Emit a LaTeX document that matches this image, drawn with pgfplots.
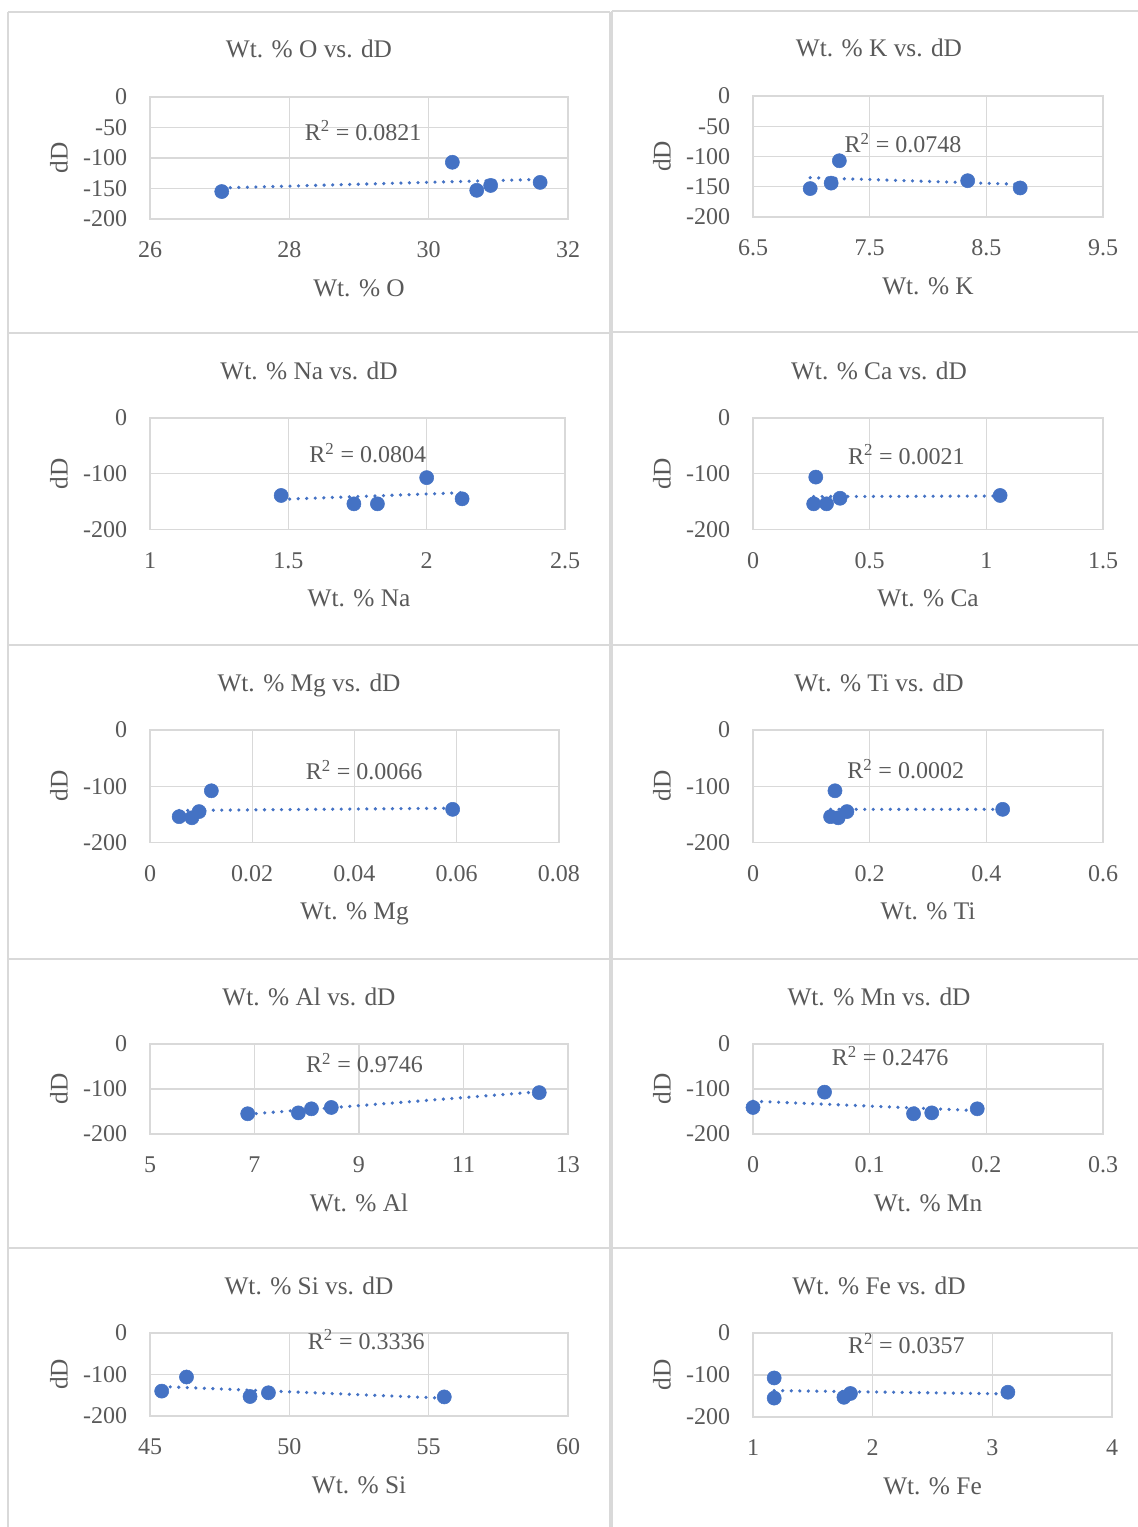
\documentclass[border=0pt]{standalone}
\usepackage{pgfplots}
\pgfplotsset{compat=1.18}
\usepackage{fontspec}
\setmainfont{Liberation Serif}
\definecolor{txt}{HTML}{595959}
\definecolor{gridc}{HTML}{D9D9D9}
\definecolor{bordc}{HTML}{D9D9D9}
\definecolor{mblue}{HTML}{4472C4}
\newcommand{\tfont}{\fontsize{19}{22}\selectfont}
\newcommand{\kfont}{\fontsize{18}{21}\selectfont}
\tikzset{r2/.style={font=\kfont, text=txt, anchor=base, inner sep=0pt}}
\pgfplotsset{
  panel/.style={
    scale only axis, anchor=south west, clip=false,
    scaled ticks=false,
    axis line style={draw=gridc, line width=1pt},
    grid=major, major grid style={draw=gridc, line width=1pt},
    tick style={draw=none},
    ymin=-200, ymax=0,
    ticklabel style={font=\kfont, text=txt, inner sep=0pt},
    yticklabel style={anchor=east, xshift=-16.9pt},
    xticklabel style={anchor=north, yshift=-17pt},
  },
  yA/.style={ytick={-200,-150,-100,-50,0}, yticklabels={-200,-150,-100,-50,0}},
  yB/.style={ytick={-200,-100,0}, yticklabels={-200,-100,0}},
  pts/.style={only marks, mark=*, mark size=5.3pt, mark options={draw=mblue, fill=mblue}},
  trend/.style={mblue, line width=2.7pt, line cap=round, dash pattern=on 0pt off 6.4pt},
}
\begin{document}
\begin{tikzpicture}
\path[use as bounding box] (0,0) rectangle (853.5pt,-1145.25pt);
\begin{scope}[x=0.75pt,y=-0.75pt, bordc, line width=1.2pt]
  \draw (8,12) -- (8,1527);
  \draw (610,12) -- (610,1527);
  \draw (612,11) -- (612,1527);
  \foreach \yy in {12,333,645,959,1248} \draw (8,\yy) -- (610,\yy);
  \foreach \yy in {11,332,645,959,1248} \draw (612,\yy) -- (1138,\yy);
\end{scope}

% ---- O
\begin{axis}[panel, yA, at={(112.5pt,-164.25pt)}, width=313.5pt, height=91.5pt,
  xmin=26, xmax=32, xtick={26,28,30,32}, xticklabels={26,28,30,32}]
\addplot[pts] coordinates {(27.03,-155) (30.34,-107) (30.69,-153) (30.89,-145) (31.60,-140)};
\addplot[trend] coordinates {(27.03,-149) (31.60,-135)};
\node[r2] at (axis cs:29.06,-70.8) {R\textsuperscript{2} = 0.0821};
\end{axis}
% ---- K
\begin{axis}[panel, yA, at={(564.75pt,-162.75pt)}, width=262.5pt, height=90.75pt,
  xmin=6.5, xmax=9.5, xtick={6.5,7.5,8.5,9.5}, xticklabels={6.5,7.5,8.5,9.5}]
\addplot[pts] coordinates {(6.99,-153) (7.17,-144) (7.24,-107) (8.34,-140) (8.79,-152)};
\addplot[trend] coordinates {(6.99,-135) (8.79,-146)};
\node[r2] at (axis cs:7.786,-93.4) {R\textsuperscript{2} = 0.0748};
\end{axis}
% ---- Na
\begin{axis}[panel, yB, at={(112.5pt,-397.1pt)}, width=311.25pt, height=83.6pt,
  xmin=1, xmax=2.5, xtick={1,1.5,2,2.5}, xticklabels={1,1.5,2,2.5}]
\addplot[pts] coordinates {(1.474,-139) (1.737,-154) (1.822,-154) (2.0,-107) (2.128,-145)};
\addplot[trend] coordinates {(1.474,-146) (2.128,-134)};
\node[r2] at (axis cs:1.787,-80) {R\textsuperscript{2} = 0.0804};
\end{axis}
% ---- Ca
\begin{axis}[panel, yB, at={(564.75pt,-397.1pt)}, width=262.5pt, height=83.6pt,
  xmin=0, xmax=1.5, xtick={0,0.5,1,1.5}, xticklabels={0,0.5,1,1.5}]
\addplot[pts] coordinates {(0.269,-106) (0.260,-154) (0.315,-154) (0.373,-144) (1.059,-139)};
\addplot[trend] coordinates {(0.26,-141) (1.059,-140)};
\node[r2] at (axis cs:0.6575,-83) {R\textsuperscript{2} = 0.0021};
\end{axis}
% ---- Mg
\begin{axis}[panel, yB, at={(112.5pt,-631.9pt)}, width=306.75pt, height=84.4pt,
  xmin=0, xmax=0.08, xtick={0,0.02,0.04,0.06,0.08}, xticklabels={0,0.02,0.04,0.06,0.08}]
\addplot[pts] coordinates {(0.0057,-154) (0.0082,-156) (0.0096,-145) (0.0120,-108) (0.0592,-141)};
\addplot[trend] coordinates {(0.0057,-143) (0.0592,-139)};
\node[r2] at (axis cs:0.0419,-88) {R\textsuperscript{2} = 0.0066};
\end{axis}
% ---- Ti
\begin{axis}[panel, yB, at={(564.75pt,-631.9pt)}, width=262.5pt, height=84.4pt,
  xmin=0, xmax=0.6, xtick={0,0.2,0.4,0.6}, xticklabels={0,0.2,0.4,0.6}]
\addplot[pts] coordinates {(0.133,-154) (0.146,-156) (0.161,-145) (0.1405,-108) (0.428,-141)};
\addplot[trend] coordinates {(0.133,-141) (0.428,-141)};
\node[r2] at (axis cs:0.2618,-86) {R\textsuperscript{2} = 0.0002};
\end{axis}
% ---- Al
\begin{axis}[panel, yB, at={(112.5pt,-850.5pt)}, width=313.5pt, height=67.5pt,
  xmin=5, xmax=13, xtick={5,7,9,11,13}, xticklabels={5,7,9,11,13}]
\addplot[pts] coordinates {(6.87,-155) (7.84,-153) (8.09,-144) (8.47,-141) (12.45,-108)};
\addplot[trend] coordinates {(6.87,-156) (12.45,-106)};
\node[r2] at (axis cs:9.105,-64) {R\textsuperscript{2} = 0.9746};
\end{axis}
% ---- Mn
\begin{axis}[panel, yB, at={(564.75pt,-850.5pt)}, width=262.5pt, height=67.5pt,
  xmin=0, xmax=0.3, xtick={0,0.1,0.2,0.3}, xticklabels={0,0.1,0.2,0.3}]
\addplot[pts] coordinates {(0,-141) (0.0613,-107) (0.1376,-155) (0.1532,-153) (0.1922,-144)};
\addplot[trend] coordinates {(0,-127) (0.1922,-148)};
\node[r2] at (axis cs:0.1176,-48) {R\textsuperscript{2} = 0.2476};
\end{axis}
% ---- Si
\begin{axis}[panel, yB, at={(112.5pt,-1062pt)}, width=313.5pt, height=62.25pt,
  xmin=45, xmax=60, xtick={45,50,55,60}, xticklabels={45,50,55,60}]
\addplot[pts] coordinates {(45.42,-140) (46.31,-106) (48.59,-153) (49.25,-144) (55.56,-154)};
\addplot[trend] coordinates {(45.42,-129) (55.56,-157)};
\node[r2] at (axis cs:52.76,-39) {R\textsuperscript{2} = 0.3336};
\end{axis}
% ---- Fe
\begin{axis}[panel, yB, at={(564.75pt,-1062.75pt)}, width=269.25pt, height=63pt,
  xmin=1, xmax=4, xtick={1,2,3,4}, xticklabels={1,2,3,4}]
\addplot[pts] coordinates {(1.177,-107) (1.177,-155) (1.76,-153) (1.814,-144) (3.13,-141)};
\addplot[trend] coordinates {(1.177,-137) (3.13,-145)};
\node[r2] at (axis cs:2.282,-48) {R\textsuperscript{2} = 0.0357};
\end{axis}

\begin{scope}[x=0.75pt,y=-0.75pt, every node/.style={font=\tfont, text=txt, inner sep=0pt}]
  % titles
  \node[anchor=base] at (309,58) {Wt. \% O vs. dD};
  \node[anchor=base] at (879,57) {Wt. \% K vs. dD};
  \node[anchor=base] at (309,379) {Wt. \% Na vs. dD};
  \node[anchor=base] at (879,379) {Wt. \% Ca vs. dD};
  \node[anchor=base] at (309,691) {Wt. \% Mg vs. dD};
  \node[anchor=base] at (879,691) {Wt. \% Ti vs. dD};
  \node[anchor=base] at (309,1005) {Wt. \% Al vs. dD};
  \node[anchor=base] at (879,1005) {Wt. \% Mn vs. dD};
  \node[anchor=base] at (309,1294) {Wt. \% Si vs. dD};
  \node[anchor=base] at (879,1294) {Wt. \% Fe vs. dD};
  % x labels
  \node[anchor=base] at (359,296) {Wt. \% O};
  \node[anchor=base] at (928,294) {Wt. \% K};
  \node[anchor=base] at (359,606.5) {Wt. \% Na};
  \node[anchor=base] at (928,606.5) {Wt. \% Ca};
  \node[anchor=base] at (354.5,919.5) {Wt. \% Mg};
  \node[anchor=base] at (928,919.5) {Wt. \% Ti};
  \node[anchor=base] at (359,1211) {Wt. \% Al};
  \node[anchor=base] at (928,1211) {Wt. \% Mn};
  \node[anchor=base] at (359,1493) {Wt. \% Si};
  \node[anchor=base] at (932.5,1494) {Wt. \% Fe};
  % y labels
  \foreach \yy in {158,474,786,1089,1374.5} \node[rotate=90] at (59,\yy) {dD};
  \foreach \yy in {156.5,474,786,1089,1375} \node[rotate=90] at (662,\yy) {dD};
\end{scope}
\end{tikzpicture}
\end{document}
